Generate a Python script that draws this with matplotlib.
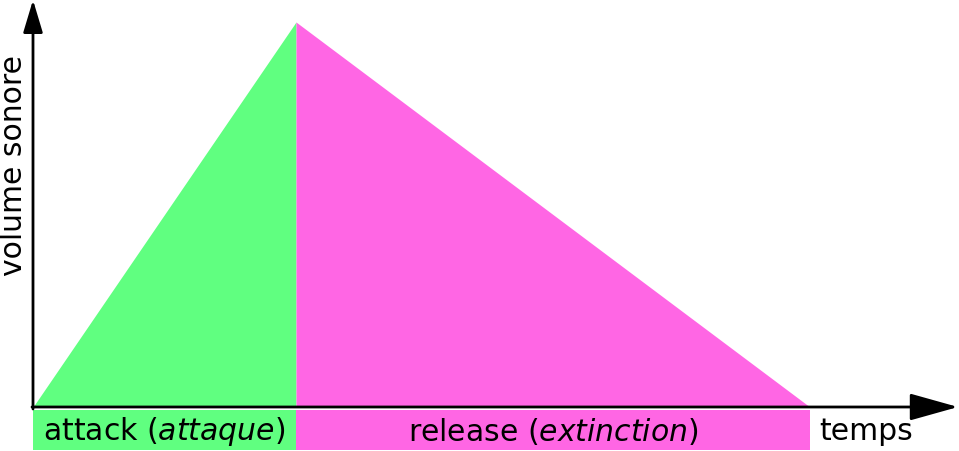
import matplotlib
matplotlib.use("Agg")
import matplotlib.pyplot as plt

# ==========================
# Data (envelope: attack then release)
# ==========================
times = [0, 1, 2.954]          # start, peak, end
levels = [0, 1, 0]
phase_starts = [0, 1]
phase_lengths = [1, 1.954]
phase_labels = ["attack ($\\mathit{attaque}$)", "release ($\\mathit{extinction}$)"]
phase_colors = ["#60ff80", "#ff66e4"]
x_label = "temps"
y_label = "volume sonore"

plt.rcParams["font.family"] = ["DejaVu Sans"]
plt.rcParams["mathtext.fontset"] = "dejavusans"

fig = plt.figure(figsize=(9.59, 4.51), dpi=100)
ax = fig.add_axes([0, 0, 1, 1])

# pixel scale: 1 time unit = 263 px, 1 level unit = 385 px
ax.set_xlim(-33 / 263, 926 / 263)
ax.set_ylim(-44 / 385, 407 / 385)
ax.axis("off")

# ==========================
# Triangles
# ==========================
ax.fill_between(times[:2], levels[:2], color=phase_colors[0], lw=0)
ax.fill_between(times[1:], levels[1:], color=phase_colors[1], lw=0)

# label bands under the axis
ax.bar(phase_starts, height=0.104, width=phase_lengths, bottom=-0.112,
       align="edge", color=phase_colors, lw=0)

for start, length, label in zip(phase_starts, phase_lengths, phase_labels):
    ax.text(start + length / 2, -0.063, label, ha="center", va="center",
            fontsize=21.5)

# ==========================
# Axes arrows
# ==========================
ax.annotate("", xy=(925 / 263, 0), xytext=(-1 / 263, 0),
            arrowprops=dict(arrowstyle="-|>,head_length=1.5,head_width=0.42",
                            mutation_scale=20, lw=2, color="black",
                            shrinkA=0, shrinkB=0))
ax.annotate("", xy=(0, 407 / 385), xytext=(0, -2 / 385),
            arrowprops=dict(arrowstyle="-|>,head_length=1.0,head_width=0.3",
                            mutation_scale=20, lw=2, color="black",
                            shrinkA=0, shrinkB=0))

ax.text(833 / 263, -0.063, x_label, ha="center", va="center", fontsize=21.5)
ax.text(-19 / 263, 242 / 385, y_label, ha="center", va="center",
        rotation=90, fontsize=21.5)

fig.savefig("out.png", dpi=100)
